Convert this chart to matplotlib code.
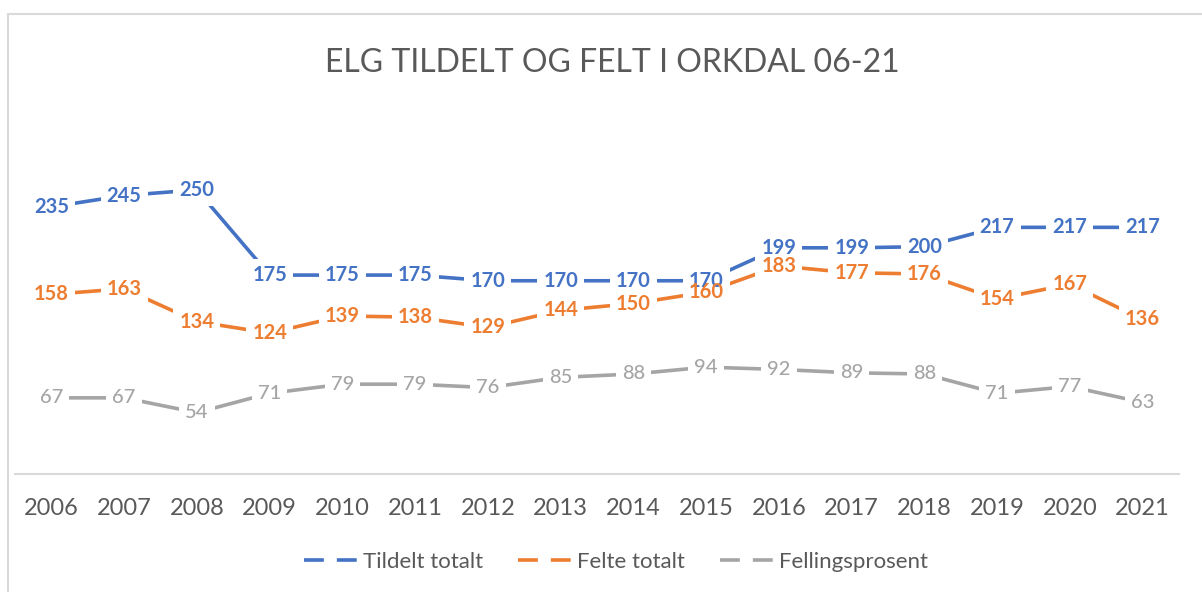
import matplotlib
matplotlib.use('Agg')
from matplotlib import pyplot as plt
from matplotlib.lines import Line2D
from matplotlib.patches import Rectangle

plt.rcParams['font.family'] = ['Lato', 'DejaVu Sans']

years = ['2006', '2007', '2008', '2009', '2010', '2011', '2012', '2013',
         '2014', '2015', '2016', '2017', '2018', '2019', '2020', '2021']
tildelt = [235, 245, 250, 175, 175, 175, 170, 170, 170, 170, 199, 199, 200, 217, 217, 217]
felte = [158, 163, 134, 124, 139, 138, 129, 144, 150, 160, 183, 177, 176, 154, 167, 136]
fellingsprosent = [67, 67, 54, 71, 79, 79, 76, 85, 88, 94, 92, 89, 88, 71, 77, 63]

series = [
    ('Tildelt totalt', tildelt, '#4472C4', 'bold'),
    ('Felte totalt', felte, '#ED7D31', 'bold'),
    ('Fellingsprosent', fellingsprosent, '#A5A5A5', 'medium'),
]

fig = plt.figure(figsize=(12.02, 5.92), dpi=100)
ax = fig.add_axes([15 / 1202, 1 - 474 / 592, (1179 - 15) / 1202, (474 - 133) / 592])

x = list(range(len(years)))
for name, vals, col, wt in series:
    ax.plot(x, vals, color=col, lw=2.6, solid_capstyle='butt', zorder=2)

# white boxes cut the lines around each label, the labels themselves don't mask each other
for name, vals, col, wt in series:
    for xi, v in zip(x, vals):
        ax.text(xi, v, str(v), ha='center', va='center', color='none',
                fontsize=14.5, fontweight=wt, zorder=3,
                bbox=dict(boxstyle='square,pad=0.3', fc='white', ec='none'))
for name, vals, col, wt in series:
    for xi, v in zip(x, vals):
        ax.text(xi, v, str(v), ha='center', va='center', color=col,
                fontsize=14.5, fontweight=wt, zorder=5)

ax.set_xlim(-0.5, len(years) - 0.5)
ax.set_ylim(0, 300)
ax.set_xticks(x)
ax.set_xticklabels(years)
ax.set_yticks([])
for s in ['top', 'right', 'left']:
    ax.spines[s].set_visible(False)
ax.spines['bottom'].set_color('#D9D9D9')
ax.spines['bottom'].set_linewidth(1.5)
ax.tick_params(axis='x', length=0, pad=17, labelsize=17, labelcolor='#595959')

fig.text(0.509, 1 - 63 / 592, 'ELG TILDELT OG FELT I ORKDAL 06-21',
         ha='center', va='center', fontsize=23, color='#595959')

handles = [Line2D([], [], color=col, lw=2.6, linestyle=(0, (5.5, 3.6)))
           for name, vals, col, wt in series]
fig.legend(handles, [s[0] for s in series], loc='center',
           bbox_to_anchor=(616 / 1202, 1 - 562 / 592), ncol=3, frameon=False,
           fontsize=16, labelcolor='#595959', handlelength=2.4,
           handletextpad=0.23, columnspacing=1.6)

fig.add_artist(Rectangle((8 / 1202, -0.1), 1.2, 1.1 - 14 / 592,
                         transform=fig.transFigure, fill=False,
                         edgecolor='#D9D9D9', lw=1.5))

fig.savefig('out.png', dpi=100)
